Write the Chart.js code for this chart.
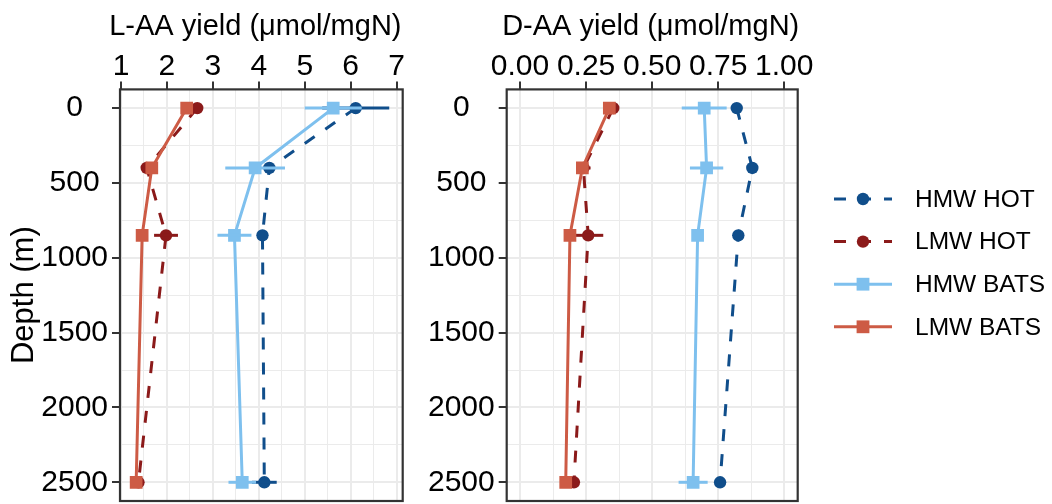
<!DOCTYPE html>
<html>
<head>
<meta charset="utf-8">
<title>AA yield profiles</title>
<script src="https://cdn.jsdelivr.net/npm/chart.js"></script>
<style>
  html, body { margin: 0; padding: 0; overflow: hidden; background: #fff; }
  #wrap { position: relative; width: 1052px; height: 504px; overflow: hidden; }
  canvas { position: absolute; top: 0; }
  #laa { left: 0; }
  #daa { left: 415px; }
</style>
</head>
<body>
<div id="wrap">
  <canvas id="laa" width="415" height="510"></canvas>
  <canvas id="daa" width="637" height="510"></canvas>
</div>
<script>
// depth of each sample (m)
const depths = [0, 400, 850, 2500];

// L-AA yield (umol/mgN)
const lHmwHot  = [6.11, 4.23, 4.08, 4.12];
const lLmwHot  = [2.66, 1.56, 1.98, 1.38];
const lHmwBats = [5.62, 3.92, 3.47, 3.64];
const lLmwBats = [2.43, 1.67, 1.46, 1.33];
// +/- error, null where no bar is drawn
const lHmwHotErr  = [0.73, null, null, 0.27];
const lLmwHotErr  = [null, null, 0.26, null];
const lHmwBatsErr = [0.62, 0.65, 0.37, 0.30];
const lLmwBatsErr = [null, null, null, null];

// D-AA yield (umol/mgN)
const dHmwHot  = [0.820, 0.879, 0.826, 0.757];
const dLmwHot  = [0.353, 0.240, 0.258, 0.204];
const dHmwBats = [0.697, 0.706, 0.672, 0.655];
const dLmwBats = [0.338, 0.236, 0.189, 0.173];
const dHmwHotErr  = [null, null, null, null];
const dLmwHotErr  = [null, 0.027, 0.057, null];
const dHmwBatsErr = [0.085, 0.063, null, 0.055];
const dLmwBatsErr = [null, null, null, null];

// axis ticks
const depthTicks = [0, 500, 1000, 1500, 2000, 2500];
const lTicks = [1, 2, 3, 4, 5, 6, 7];
const lTickLabels = ["1", "2", "3", "4", "5", "6", "7"];
const dTicks = [0, 0.25, 0.5, 0.75, 1];
const dTickLabels = ["0.00", "0.25", "0.50", "0.75", "1.00"];

const seriesNames = ["HMW HOT", "LMW HOT", "HMW BATS", "LMW BATS"];
const seriesColors = ["#104E8B", "#8B1A1A", "#7EC0EE", "#CD5B45"];

const FONT = '"Liberation Sans", Arial, Helvetica, sans-serif';
Chart.defaults.font.family = FONT;
Chart.defaults.color = "#000";

const LINE_W = 3;

// majors plus the minor lines half way between them
function withMinor(majors) {
  const out = [];
  majors.forEach((v, i) => {
    out.push(v);
    if (i < majors.length - 1) out.push((v + majors[i + 1]) / 2);
  });
  return out;
}

function gridOpts(majors) {
  return {
    color: "#EBEBEB",
    lineWidth: c => majors.includes(c.tick.value) ? 2 : 1,
    tickColor: c => majors.includes(c.tick.value) ? "#333333" : "rgba(0,0,0,0)",
    tickLength: 8,
    tickWidth: 2,
    drawTicks: true,
    drawOnChartArea: true
  };
}

function makeDatasets(values, errors) {
  return seriesNames.map((name, i) => {
    const hot = name.endsWith("HOT");
    return {
      label: name,
      data: depths.map((d, j) => ({ x: values[i][j], y: d })),
      errors: errors[i],
      showLine: true,
      borderColor: seriesColors[i],
      backgroundColor: seriesColors[i],
      borderWidth: LINE_W,
      borderDash: hot ? [12, 13] : [],
      pointStyle: hot ? "circle" : "rect",
      pointRadius: hot ? 6.2 : 9,
      pointBorderWidth: 0,
      order: hot ? 2 : 1
    };
  });
}

// horizontal error bars, drawn right after their own series
const errorBars = {
  id: "errorBars",
  afterDatasetDraw(chart, args) {
    const ds = chart.data.datasets[args.index];
    const xs = chart.scales.x, ys = chart.scales.y;
    const ctx = chart.ctx;
    ctx.save();
    ctx.strokeStyle = ds.borderColor;
    ctx.lineWidth = LINE_W;
    ds.data.forEach((p, j) => {
      const e = ds.errors[j];
      if (e == null) return;
      const y = ys.getPixelForValue(p.y);
      ctx.beginPath();
      ctx.moveTo(xs.getPixelForValue(p.x - e), y);
      ctx.lineTo(xs.getPixelForValue(p.x + e), y);
      ctx.stroke();
    });
    ctx.restore();
  }
};

// panel frame plus the x title above the tick labels
const panelBorder = {
  id: "panelBorder",
  afterDatasetsDraw(chart) {
    const a = chart.chartArea;
    const ctx = chart.ctx;
    ctx.save();
    ctx.strokeStyle = "#333333";
    ctx.lineWidth = 2.2;
    ctx.strokeRect(a.left, a.top, a.right - a.left, a.bottom - a.top);
    ctx.restore();
  },
  afterDraw(chart, args, opts) {
    const a = chart.chartArea;
    const ctx = chart.ctx;
    ctx.save();
    ctx.fillStyle = "#000";
    ctx.font = "29px " + FONT;
    ctx.textAlign = "center";
    ctx.textBaseline = "middle";
    ctx.fillText(opts.title, (a.left + a.right) / 2 + opts.shift, 27);
    ctx.restore();
  }
};

// legend to the right of the D-AA panel
const sideLegend = {
  id: "sideLegend",
  afterDraw(chart) {
    const ctx = chart.ctx;
    ctx.save();
    chart.data.datasets.forEach((ds, i) => {
      const y = 199 + i * 42.6;
      const x0 = 419, x1 = 477, xm = 448;
      ctx.strokeStyle = ds.borderColor;
      ctx.lineWidth = LINE_W;
      ctx.setLineDash(ds.borderDash);
      ctx.beginPath();
      ctx.moveTo(x0, y);
      ctx.lineTo(x1, y);
      ctx.stroke();
      ctx.setLineDash([]);
      ctx.fillStyle = ds.backgroundColor;
      if (ds.pointStyle === "circle") {
        ctx.beginPath();
        ctx.arc(xm, y, 6.2, 0, Math.PI * 2);
        ctx.fill();
      } else {
        ctx.fillRect(xm - 6.4, y - 6.4, 12.8, 12.8);
      }
      ctx.fillStyle = "#000";
      ctx.font = "24.5px " + FONT;
      ctx.textBaseline = "middle";
      ctx.textAlign = "left";
      ctx.fillText(ds.label, 500, y + 1);
    });
    ctx.restore();
  }
};

function buildChart(id, values, errors, xCfg) {
  const ctx = document.getElementById(id).getContext("2d");
  return new Chart(ctx, {
    type: "scatter",
    data: { datasets: makeDatasets(values, errors) },
    options: {
      responsive: false,
      animation: false,
      layout: { padding: { left: 0, top: 0, right: xCfg.padRight, bottom: 5 } },
      plugins: {
        legend: { display: false },
        tooltip: { enabled: false },
        panelBorder: { title: xCfg.title, shift: xCfg.titleShift }
      },
      scales: {
        x: {
          type: "linear",
          position: "top",
          min: xCfg.min,
          max: xCfg.max,
          bounds: "data",
          afterBuildTicks: s => { s.ticks = withMinor(xCfg.ticks).map(v => ({ value: v })); },
          afterFit: s => { s.height = 89.4; s.paddingLeft = 0; s.paddingRight = 0; },
          ticks: {
            autoSkip: false,
            maxRotation: 0,
            minRotation: 0,
            padding: 0,
            font: { size: 30, lineHeight: 1 },
            color: "#000",
            callback: v => {
              const k = xCfg.ticks.indexOf(v);
              return k >= 0 ? xCfg.labels[k] : "";
            }
          },
          grid: gridOpts(xCfg.ticks),
          border: { display: false },
          title: { display: false }
        },
        y: {
          type: "linear",
          reverse: true,
          min: -125,
          max: 2625,
          bounds: "data",
          afterBuildTicks: s => { s.ticks = withMinor(depthTicks).map(v => ({ value: v })); },
          afterFit: s => { s.width = xCfg.yWidth; s.paddingTop = 0; s.paddingBottom = 0; },
          ticks: {
            autoSkip: false,
            crossAlign: "center",
            padding: 4,
            font: { size: 30 },
            color: "#000",
            callback: v => depthTicks.includes(v) ? String(v) : ""
          },
          grid: gridOpts(depthTicks),
          border: { display: false },
          title: {
            display: xCfg.yTitle,
            text: "Depth (m)",
            font: { size: 31 },
            color: "#000",
            padding: { top: 6, bottom: 0 }
          }
        }
      }
    },
    plugins: xCfg.legend ? [errorBars, panelBorder, sideLegend] : [errorBars, panelBorder]
  });
}

buildChart("laa",
  [lHmwHot, lLmwHot, lHmwBats, lLmwBats],
  [lHmwHotErr, lLmwHotErr, lHmwBatsErr, lLmwBatsErr],
  { min: 0.978, max: 7.133, ticks: lTicks, labels: lTickLabels,
    title: "L-AA yield (\u03bcmol/mgN)", titleShift: -6,
    yWidth: 120, yTitle: true, padRight: 12.3, legend: false });

buildChart("daa",
  [dHmwHot, dLmwHot, dHmwBats, dLmwBats],
  [dHmwHotErr, dLmwHotErr, dHmwBatsErr, dLmwBatsErr],
  { min: -0.0503, max: 1.0507, ticks: dTicks, labels: dTickLabels,
    title: "D-AA yield (\u03bcmol/mgN)", titleShift: -1.5,
    yWidth: 91.7, yTitle: false, padRight: 254.3, legend: true });
</script>
</body>
</html>
